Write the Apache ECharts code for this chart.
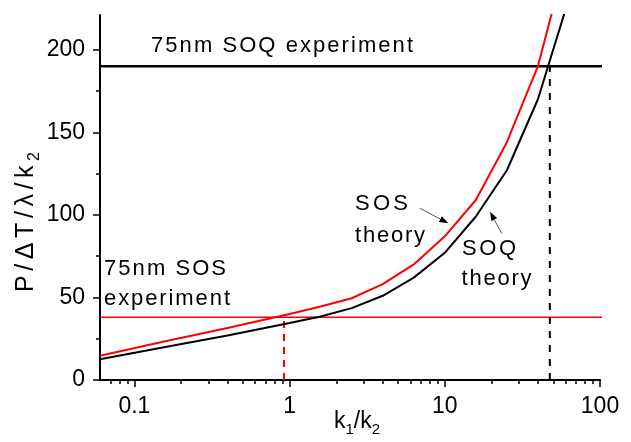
<!DOCTYPE html>
<html><head><meta charset="utf-8">
<script src="https://cdn.jsdelivr.net/npm/echarts@6/dist/echarts.min.js"></script>
<style>html,body{margin:0;padding:0;background:#fff}#c{width:631px;height:442px}</style>
</head><body><div id="c"></div>
<script>
// ---- data ----
const ratios     = [0.06, 0.158, 0.398, 1, 1.585, 2.512, 3.981, 6.31, 10, 15.85, 25.12, 39.81, 63.1];
const sosTheory  = [14.7, 23.5, 31.5, 40, 44.5, 49.5, 58, 70, 87, 109, 144, 190, 262];
const soqTheory  = [12.6, 20, 27, 34.5, 38.5, 43.5, 51, 62, 77, 99, 127, 170, 231];
const sosExperiment = 38;     // 75nm SOS experiment level
const soqExperiment = 190;    // 75nm SOQ experiment level
const sosCrossing = 0.92;     // k1/k2 where SOS theory meets experiment
const soqCrossing = 47.5;     // k1/k2 where SOQ theory meets experiment
const xRange = [0.06, 100];
const yRange = [0, 221];
const xTickLabels = [0.1, 1, 10, 100];
const xMinorTicks = [0.07,0.08,0.09,0.2,0.3,0.4,0.5,0.6,0.7,0.8,0.9,2,3,4,5,6,7,8,9,20,30,40,50,60,70,80,90];
const yTickLabels = [0, 50, 100, 150, 200];
const yMinorTicks = [25, 75, 125, 175];

// ---- helpers ----
const FF = '"Liberation Sans", Arial, Helvetica, sans-serif';
const mctx = document.createElement('canvas').getContext('2d');
function run(items, x, y, opts) {
  opts = opts || {};
  const fsDefault = opts.fs || 22;
  let widths = items.map(it => { mctx.font = (it.fs || fsDefault) + 'px ' + FF; return mctx.measureText(it.ch).width; });
  const natural = widths.reduce((a, b) => a + b, 0);
  const sp = opts.width != null && items.length > 1 ? (opts.width - natural) / (items.length - 1) : (opts.sp || 0);
  const children = [];
  let cx = 0;
  items.forEach((it, i) => {
    const fs = it.fs || fsDefault;
    children.push({
      type: 'text', x: cx, y: (it.dy || 0) - 0.3465 * fs, silent: true,
      style: { text: it.ch, font: fs + 'px ' + FF, fill: opts.color || '#000',
               align: 'left', verticalAlign: 'middle', textAlign: 'left', textVerticalAlign: 'middle' }
    });
    cx += widths[i] + sp;
  });
  return { type: 'group', x: x, y: y, rotation: opts.rotation || 0, children: children, silent: true };
}
function chars(str, fs) { return Array.from(str).map(ch => ({ ch: ch, fs: fs })); }
function arrow(x1, y1, x2, y2) {
  const dx = x2 - x1, dy = y2 - y1, L = Math.hypot(dx, dy), ux = dx / L, uy = dy / L;
  const hl = 9, hw = 3.2, bx = x2 - ux * hl, by = y2 - uy * hl;
  return [
    { type: 'line', silent: true, shape: { x1: x1, y1: y1, x2: bx, y2: by }, style: { stroke: '#555', lineWidth: 1 } },
    { type: 'polygon', silent: true, shape: { points: [[x2, y2], [bx - uy * hw, by + ux * hw], [bx + uy * hw, by - ux * hw]] }, style: { fill: '#000' } }
  ];
}

const pairs = (xs, ys) => xs.map((x, i) => [x, ys[i]]);
const axisBlack = { color: '#000', width: 1.5 };

const chart = echarts.init(document.getElementById('c'), null, { renderer: 'canvas' });
const option = {
  animation: false,
  backgroundColor: '#fff',
  grid: [
    { left: 100, right: 31, top: 15, bottom: 62, outerBoundsMode: 'none' },
    { left: 100, right: 31, top: 15, bottom: 62, outerBoundsMode: 'none' }
  ],
  xAxis: [
    { type: 'log', logBase: 10, gridIndex: 0, min: xRange[0], max: xRange[1], position: 'bottom',
      axisLine: { show: true, onZero: false, lineStyle: { color: '#000', width: 2 } },
      axisTick: { show: true, inside: false, customValues: xTickLabels, length: 7, lineStyle: axisBlack },
      axisLabel: { show: true, customValues: xTickLabels, formatter: v => String(v), fontSize: 23, fontFamily: FF, color: '#000', margin: 15 },
      splitLine: { show: false }, minorTick: { show: false }, minorSplitLine: { show: false } },
    { type: 'log', logBase: 10, gridIndex: 1, min: xRange[0], max: xRange[1], position: 'bottom',
      axisLine: { show: false, onZero: false },
      axisTick: { show: true, inside: false, customValues: xMinorTicks, length: 4, lineStyle: axisBlack },
      axisLabel: { show: false }, splitLine: { show: false } }
  ],
  yAxis: [
    { type: 'value', gridIndex: 0, min: yRange[0], max: yRange[1], position: 'left',
      axisLine: { show: true, onZero: false, lineStyle: { color: '#000', width: 2 } },
      axisTick: { show: true, inside: false, customValues: yTickLabels, length: 7, lineStyle: axisBlack },
      axisLabel: { show: true, customValues: yTickLabels, fontSize: 23, fontFamily: FF, color: '#000', margin: 15 },
      splitLine: { show: false } },
    { type: 'value', gridIndex: 1, min: yRange[0], max: yRange[1], position: 'left',
      axisLine: { show: false, onZero: false },
      axisTick: { show: true, inside: false, customValues: yMinorTicks, length: 4, lineStyle: axisBlack },
      axisLabel: { show: false }, splitLine: { show: false } }
  ],
  series: [
    { name: '75nm SOQ experiment', type: 'line', xAxisIndex: 0, yAxisIndex: 0, clip: false, showSymbol: false, silent: true,
      data: [[xRange[0], soqExperiment], [104.5, soqExperiment]], lineStyle: { color: '#000', width: 2.4 } },
    { name: '75nm SOS experiment', type: 'line', xAxisIndex: 0, yAxisIndex: 0, clip: false, showSymbol: false, silent: true,
      data: [[xRange[0], sosExperiment], [104.5, sosExperiment]], lineStyle: { color: '#ff0000', width: 1.3 } },
    { name: 'SOS crossing', type: 'line', showSymbol: false, silent: true,
      data: [[sosCrossing, 0], [sosCrossing, sosExperiment]], lineStyle: { color: '#ff0000', width: 2, type: [7, 6] } },
    { name: 'SOQ crossing', type: 'line', showSymbol: false, silent: true,
      data: [[soqCrossing, 0], [soqCrossing, soqExperiment]], lineStyle: { color: '#000', width: 2, type: [7, 7] } },
    { name: 'SOQ theory', type: 'line', showSymbol: false, silent: true, clip: true,
      data: pairs(ratios, soqTheory), lineStyle: { color: '#000', width: 2 } },
    { name: 'SOS theory', type: 'line', showSymbol: false, silent: true, clip: true,
      data: pairs(ratios, sosTheory), lineStyle: { color: '#ff0000', width: 2 } }
  ],
  graphic: [
    run(chars('75nm SOQ experiment', 22), 151, 53.3, { width: 262 }),
    run(chars('75nm SOS', 22), 104, 276.7, { width: 122 }),
    run(chars('experiment', 22), 104, 306.7, { width: 126 }),
    run(chars('SOS', 22), 355, 211.7, { width: 53 }),
    run(chars('theory', 22), 355, 243.3, { width: 70 }),
    run(chars('SOQ', 22), 462, 256.7, { width: 54 }),
    run(chars('theory', 22), 461.5, 286.7, { width: 70 }),
    run([{ ch: 'k', fs: 23 }, { ch: '1', fs: 15, dy: 5 }, { ch: '/', fs: 23 }, { ch: 'k', fs: 23 }, { ch: '2', fs: 15, dy: 5 }], 334, 430, {}),
    run([{ ch: 'P', fs: 25 }, { ch: '/', fs: 25 }, { ch: 'Δ', fs: 25 }, { ch: 'T', fs: 25 }, { ch: '/', fs: 25 }, { ch: 'λ', fs: 25 }, { ch: '/', fs: 25 }, { ch: 'k', fs: 25 }, { ch: '2', fs: 16, dy: 5 }], 35, 292, { rotation: Math.PI / 2, width: 140 })
  ].concat(arrow(420, 208.3, 448.3, 223.3), arrow(501.7, 233.3, 490, 211.7))
};
chart.setOption(option);
</script>
</body></html>
